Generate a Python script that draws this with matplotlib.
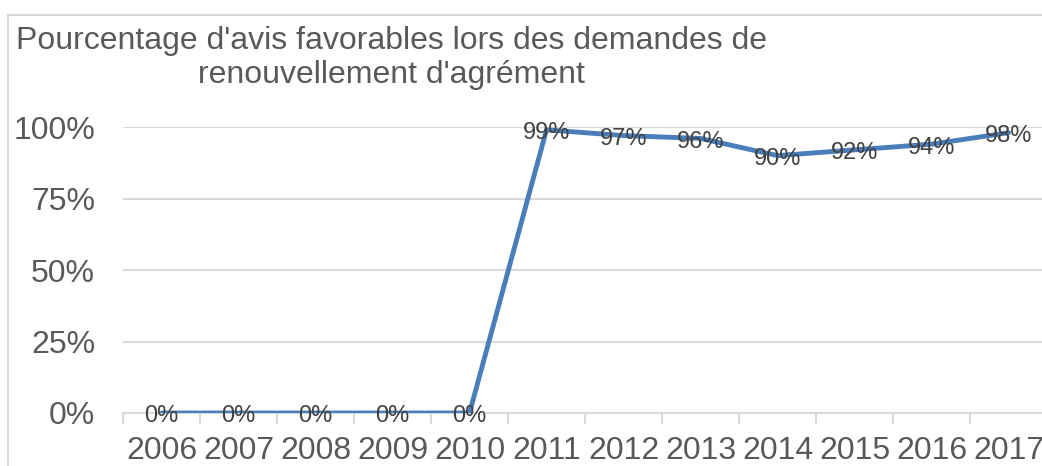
import matplotlib.pyplot as plt
from matplotlib.patches import Rectangle
from matplotlib.ticker import FixedLocator, PercentFormatter

plt.rcParams['font.family'] = ['Liberation Sans', 'DejaVu Sans']

# data
years = ['2006', '2007', '2008', '2009', '2010', '2011',
         '2012', '2013', '2014', '2015', '2016', '2017']
favorable = [0, 0, 0, 0, 0, 0.99, 0.97, 0.96, 0.90, 0.92, 0.94, 0.98]
labels = ['0%', '0%', '0%', '0%', '0%', '99%', '97%', '96%', '90%', '92%', '94%', '98%']

fig = plt.figure(figsize=(10.42, 4.66), dpi=100)

# chart border (runs off the right and bottom of the picture)
fig.patches.append(Rectangle((8 / 1042, -0.1), 1.2, (466 - 15) / 466 + 0.1,
                             transform=fig.transFigure, fill=False,
                             edgecolor='#D9D9D9', linewidth=1.5))

ax = fig.add_axes([123 / 1042, (466 - 413) / 466, 924 / 1042, (413 - 127) / 466])

x = list(range(len(years)))
ax.plot(x, favorable, color='#4A7EBB', linewidth=3.5, solid_capstyle='round', zorder=3)

for xi, yi, lab in zip(x, favorable, labels):
    ax.text(xi, yi - 0.012, lab, ha='center', va='center', fontsize=17,
            color='#404040', zorder=4)

ax.set_xlim(-0.5, 11.5)
ax.set_ylim(0, 1)
ax.set_xticks(x)
ax.set_xticklabels(years)
ax.xaxis.set_minor_locator(FixedLocator([i - 0.5 for i in range(13)]))
ax.tick_params(axis='x', which='major', length=0, pad=16.5, labelsize=23, labelcolor='#595959')
ax.tick_params(axis='x', which='minor', length=8, width=1.5, color='#D9D9D9', direction='out')

ax.set_yticks([0, 0.25, 0.5, 0.75, 1.0])
ax.yaxis.set_major_formatter(PercentFormatter(1.0, decimals=0))
ax.tick_params(axis='y', length=0, pad=20, labelsize=23, labelcolor='#595959')

ax.grid(axis='y', color='#D9D9D9', linewidth=1.5, zorder=0)
ax.set_axisbelow(True)
for side in ['top', 'right', 'left']:
    ax.spines[side].set_visible(False)
ax.spines['bottom'].set_color('#D9D9D9')
ax.spines['bottom'].set_linewidth(1.5)
ax.spines['bottom'].set_zorder(1)

fig.text(391 / 1042, 1 - 58 / 466,
         "Pourcentage d'avis favorables lors des demandes de\nrenouvellement d'agrément",
         ha='center', va='center', fontsize=23, color='#595959', linespacing=1.15)

fig.savefig('out.png', dpi=100)
